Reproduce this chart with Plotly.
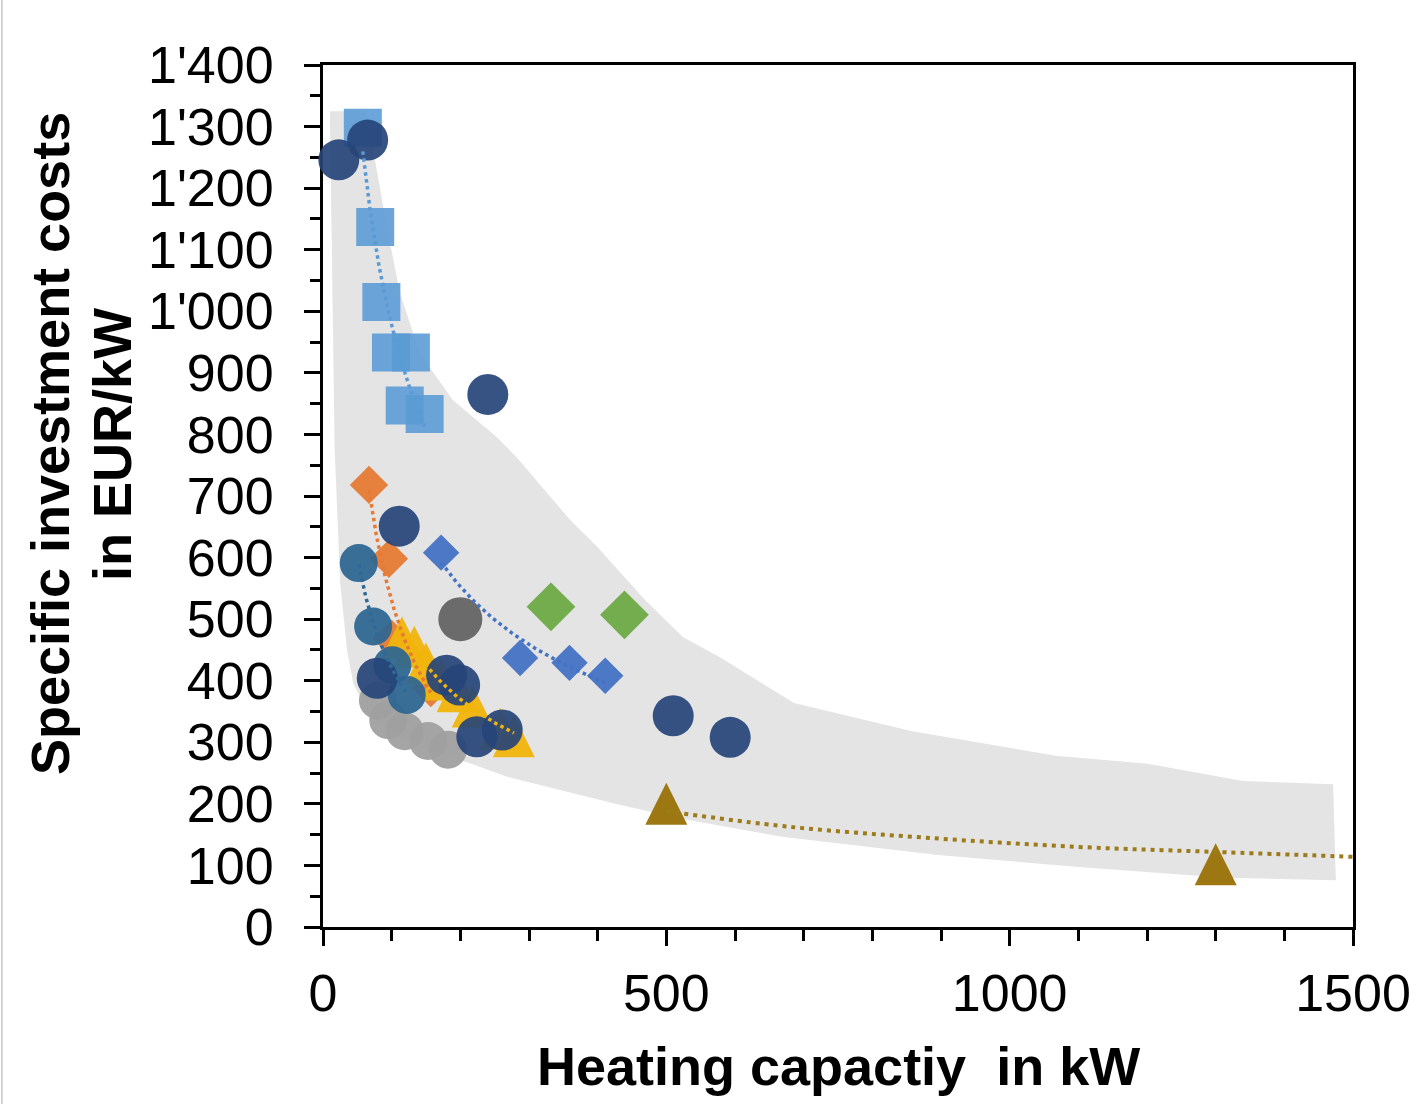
import numpy as np
import plotly.graph_objects as go

# ---- data (heating capacity in kW, specific investment cost in EUR/kW) ----
band_kw = [10, 62, 75, 93, 112, 141, 189, 253, 282, 360, 399, 470, 524, 578, 686, 858, 1067, 1201,
           1340, 1471, 1475, 1313, 1105, 896, 671, 530, 433, 268, 214, 141, 68, 44, 35, 25, 17, 10]
band_cost = [1325, 1325, 1250, 1137, 1030, 932, 856, 796, 763, 661, 618, 530, 471, 438, 364, 318, 278, 265,
             237, 232, 76, 80, 97, 117, 146, 174, 198, 244, 266, 292, 341, 396, 450, 559, 775, 1325]

grey_kw = [80, 95, 119, 153, 182]
grey_cost = [368, 336, 318, 302, 288]

darkgrey_kw = [200]
darkgrey_cost = [500]

orange_kw = [67, 96, 100, 157]
orange_cost = [718, 598, 468, 388]

yellow_kw = [115, 133, 150, 172, 196, 218, 258, 278]
yellow_cost = [470, 455, 428, 402, 383, 358, 322, 310]

teal_kw = [52, 73, 101, 122]
teal_cost = [591, 488, 425, 377]

lightblue_kw = [58, 76, 85, 99, 128, 119, 148]
lightblue_cost = [1298, 1137, 1015, 933, 933, 847, 833]

navy_kw = [23, 65, 240, 111, 510, 593, 79, 180, 199, 224, 261]
navy_cost = [1246, 1278, 865, 651, 343, 308, 404, 409, 393, 309, 320]

blue_kw = [172, 287, 359, 411]
blue_cost = [608, 437, 429, 408]

green_kw = [332, 439]
green_cost = [520, 507]

olive_kw = [500, 1300]
olive_cost = [200, 102]
olive_trend_kw = [500, 677, 878, 1101, 1298, 1500]
olive_trend_cost = [188, 163, 145, 130, 122, 114]

x_ticks = [0, 500, 1000, 1500]
x_minor = [100, 200, 300, 400, 600, 700, 800, 900, 1100, 1200, 1300, 1400]
y_ticks = [0, 100, 200, 300, 400, 500, 600, 700, 800, 900, 1000, 1100, 1200, 1300, 1400]
y_tick_labels = ["0", "100", "200", "300", "400", "500", "600", "700", "800", "900",
                 "1'000", "1'100", "1'200", "1'300", "1'400"]
y_minor = [50 + 100 * i for i in range(14)]

FONT = "Arial, Liberation Sans, sans-serif"


def power_trend(x, y):
    """Least-squares power-law trend y = a * x^b over the span of the series."""
    b, ln_a = np.polyfit(np.log(x), np.log(y), 1)
    xs = np.linspace(min(x), max(x), 80)
    return xs, np.exp(ln_a) * xs ** b


fig = go.Figure()

# shaded cost range
fig.add_trace(go.Scatter(x=band_kw, y=band_cost, mode="lines", fill="toself",
                         fillcolor="#e4e4e4", line=dict(width=0), hoverinfo="skip"))


def markers(x, y, symbol, size, color, **extra):
    marker = dict(symbol=symbol, size=size, color=color, line=dict(width=0))
    marker.update(extra)
    fig.add_trace(go.Scatter(x=x, y=y, mode="markers", marker=marker, cliponaxis=False))


def upward_triangles(x, y, size, color):
    # square-proportioned triangle centred on the data point
    markers(x, y, "arrow-down", size, color, angle=180, standoff=size / 2)


markers(grey_kw, grey_cost, "circle", 38, "rgba(160,160,160,0.95)")
markers(darkgrey_kw, darkgrey_cost, "circle", 44, "rgba(100,100,100,0.95)")
markers(orange_kw, orange_cost, "diamond", 29.5, "rgba(230,122,52,0.95)")
upward_triangles(yellow_kw, yellow_cost, 42, "rgba(240,180,12,0.95)")
markers(teal_kw, teal_cost, "circle", 38, "rgba(44,101,145,0.93)")
markers(lightblue_kw, lightblue_cost, "square", 38, "rgba(91,155,213,0.9)")
markers(navy_kw, navy_cost, "circle", 41, "rgba(38,68,120,0.92)")
markers(blue_kw, blue_cost, "diamond", 28, "rgba(68,114,196,0.95)")
markers(green_kw, green_cost, "diamond", 37.5, "rgba(112,170,72,0.97)")
upward_triangles(olive_kw, olive_cost, 42, "rgba(153,115,10,0.97)")

# dotted power trend lines, drawn above the markers
for xs, ys, col in [
    (lightblue_kw, lightblue_cost, "#5b9bd5"),
    (teal_kw, teal_cost, "#2e6a97"),
    (orange_kw, orange_cost, "#e67a34"),
    (yellow_kw, yellow_cost, "#f0b40c"),
    (blue_kw, blue_cost, "#4472c4"),
]:
    tx, ty = power_trend(np.array(xs, float), np.array(ys, float))
    fig.add_trace(go.Scatter(x=tx, y=ty, mode="lines",
                             line=dict(color=col, width=3.5, dash="dot"), hoverinfo="skip"))

fig.add_trace(go.Scatter(x=olive_trend_kw, y=olive_trend_cost, mode="lines",
                         line=dict(color="#9c7b1b", width=4, dash="4px,5px", shape="spline"),
                         hoverinfo="skip"))

axis_common = dict(showline=True, linecolor="black", linewidth=3, mirror=True,
                   showgrid=False, zeroline=False, ticks="outside", ticklen=16,
                   tickwidth=2.5, tickcolor="black", layer="below traces",
                   tickfont=dict(family=FONT, size=52, color="black"))

title_font = dict(family=FONT, size=54, color="black")

fig.update_layout(
    width=1422, height=1104,
    margin=dict(l=323, r=69, t=65, b=177),
    paper_bgcolor="white", plot_bgcolor="white",
    showlegend=False,
    xaxis=dict(range=[0, 1500], tickmode="array", tickvals=x_ticks,
               ticklabelstandoff=3,
               minor=dict(tickmode="array", tickvals=x_minor, ticks="outside", ticklen=11,
                          tickwidth=2.5, tickcolor="black"),
               **axis_common),
    yaxis=dict(range=[0, 1400], tickmode="array", tickvals=y_ticks, ticktext=y_tick_labels,
               ticklabelstandoff=20,
               minor=dict(tickmode="array", tickvals=y_minor, ticks="outside", ticklen=10,
                          tickwidth=2.5, tickcolor="black"),
               **axis_common),
    annotations=[
        dict(text="<b>Heating capactiy  in kW</b>", xref="paper", yref="paper",
             x=0.5, y=-0.161, xanchor="center", yanchor="middle", showarrow=False,
             font=title_font),
        dict(text="<b>Specific investment costs</b>", xref="paper", yref="paper",
             x=-0.265, y=0.5603, xanchor="center", yanchor="middle", showarrow=False,
             textangle=-90, font=title_font),
        dict(text="<b>in EUR/kW</b>", xref="paper", yref="paper",
             x=-0.2049, y=0.5603, xanchor="center", yanchor="middle", showarrow=False,
             textangle=-90, font=title_font),
    ],
    shapes=[dict(type="line", xref="paper", yref="paper", x0=-0.3117, x1=-0.3117,
                 y0=-0.21, y1=1.08, line=dict(color="#c8c8c8", width=1.5))],
)

fig.write_html("out.html")
